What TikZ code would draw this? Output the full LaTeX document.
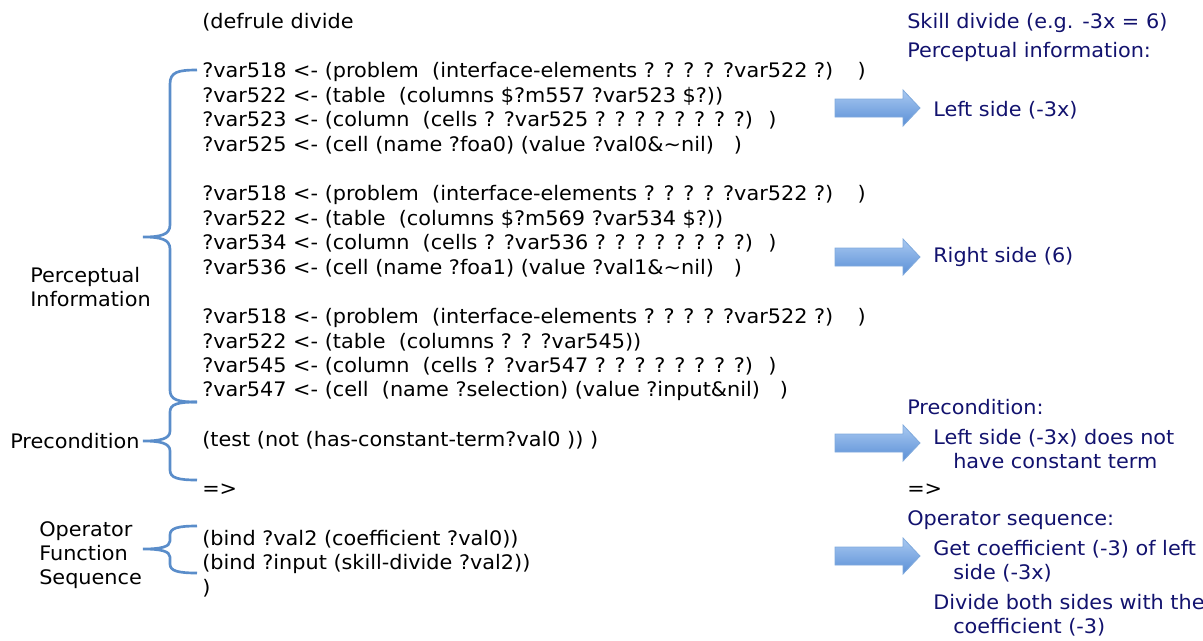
\documentclass[tikz,border=0pt]{standalone}
\usepackage{fontspec}
\setmainfont{DejaVu Sans}[FakeStretch=1.04]
\usepackage{xcolor}
\usepackage{tikz}

\definecolor{navytext}{HTML}{12126E}
\definecolor{braceblue}{HTML}{5A8DCA}
\definecolor{arrowtop}{HTML}{A9C9F1}
\definecolor{arrowbot}{HTML}{5A8FD6}
\definecolor{arrowedge}{HTML}{7FA9DC}

\tikzset{
    code/.style={anchor=west, inner sep=0pt, font=\fontsize{15}{18}\selectfont},
    sidelabel/.style={anchor=west, inner sep=0pt, align=left, font=\fontsize{15}{18}\selectfont},
    note/.style={anchor=west, inner sep=0pt, align=left, text=navytext, font=\fontsize{15}{18}\selectfont},
    braceline/.style={draw=braceblue, line width=2pt},
    blockarrow/.style={draw=arrowedge, line width=0.6pt, top color=arrowtop, bottom color=arrowbot}
}

\begin{document}
\begin{tikzpicture}[x=0.75pt, y=-0.75pt]
        \useasboundingbox (0, 0) rectangle (1203, 640);

        % rule text
        \node[code] (defrule) at (202, 22.3) {(defrule divide};

        \node[code] (lineA1) at (202, 71.5) {?var518 <- (problem~ (interface-elements ? ? ? ? ?var522 ?) ~ )};
        \node[code] (lineA2) at (202, 96.1) {?var522 <- (table~ (columns \$?m557 ?var523 \$?))};
        \node[code] (lineA3) at (202, 120.7) {?var523 <- (column~ (cells ? ?var525 ? ? ? ? ? ? ? ?)~ )};
        \node[code] (lineA4) at (202, 145.3) {?var525 <- (cell (name ?foa0) (value ?val0\&\textasciitilde nil) ~ )};

        \node[code] (lineB1) at (202, 194.5) {?var518 <- (problem~ (interface-elements ? ? ? ? ?var522 ?) ~ )};
        \node[code] (lineB2) at (202, 219.1) {?var522 <- (table~ (columns \$?m569 ?var534 \$?))};
        \node[code] (lineB3) at (202, 243.7) {?var534 <- (column~ (cells ? ?var536 ? ? ? ? ? ? ? ?)~ )};
        \node[code] (lineB4) at (202, 268.3) {?var536 <- (cell (name ?foa1) (value ?val1\&\textasciitilde nil) ~ )};

        \node[code] (lineC1) at (202, 317.5) {?var518 <- (problem~ (interface-elements ? ? ? ? ?var522 ?) ~ )};
        \node[code] (lineC2) at (202, 342.1) {?var522 <- (table~ (columns ? ? ?var545))};
        \node[code] (lineC3) at (202, 366.7) {?var545 <- (column~ (cells ? ?var547 ? ? ? ? ? ? ? ?)~ )};
        \node[code] (lineC4) at (202, 391.3) {?var547 <- (cell~ (name ?selection) (value ?input\&nil) ~ )};

        \node[code] (test) at (202, 440.5) {(test (not (has-constant-term?val0 )) )};
        \node[code] (then) at (202, 489.7) {=>};
        \node[code] (bindA) at (202, 538.9) {(bind ?val2 (coefficient ?val0))};
        \node[code] (bindB) at (202, 563.5) {(bind ?input (skill-divide ?val2))};
        \node[code] (close) at (202, 588.1) {)};

        % braces and their labels
        \draw[braceline] (197, 70) .. controls (178, 70) and (170, 72) .. (170, 84)
            -- (170, 225) .. controls (170, 235) and (160, 237) .. (143, 237)
            (143, 237) .. controls (160, 237) and (170, 239) .. (170, 249)
            -- (170, 390) .. controls (170, 400) and (178, 402) .. (197, 402);
        \node[sidelabel] (perclabel) at (30, 287) {Perceptual\\Information};

        \draw[braceline] (197, 402) .. controls (178, 402) and (170, 404) .. (170, 412)
            -- (170, 431) .. controls (170, 439) and (160, 441) .. (143, 441)
            (143, 441) .. controls (160, 441) and (170, 443) .. (170, 451)
            -- (170, 470) .. controls (170, 478) and (178, 480) .. (197, 480);
        \node[sidelabel] (prelabel) at (10, 441) {Precondition};

        \draw[braceline] (197, 526) .. controls (178, 526) and (170, 528) .. (170, 535)
            -- (170, 541) .. controls (170, 547) and (160, 549) .. (143, 549)
            (143, 549) .. controls (160, 549) and (170, 551) .. (170, 557)
            -- (170, 564) .. controls (170, 571) and (178, 573) .. (197, 573);
        \node[sidelabel] (oplabel) at (39, 555) {Operator\\Function\\Sequence};

        % block arrows
        \shadedraw[blockarrow] (835, 99) -- (903, 99) -- (903, 90) -- (920, 108)
            -- (903, 126) -- (903, 117) -- (835, 117) -- cycle;
        \shadedraw[blockarrow] (835, 248) -- (903, 248) -- (903, 239) -- (920, 257)
            -- (903, 275) -- (903, 266) -- (835, 266) -- cycle;
        \shadedraw[blockarrow] (835, 434) -- (903, 434) -- (903, 425) -- (920, 443)
            -- (903, 461) -- (903, 452) -- (835, 452) -- cycle;
        \shadedraw[blockarrow] (835, 547) -- (903, 547) -- (903, 538) -- (920, 556)
            -- (903, 574) -- (903, 565) -- (835, 565) -- cycle;

        % explanation on the right
        \node[note] (skill) at (907, 23) {Skill divide (e.g. -3x = 6)};
        \node[note] (perchead) at (907, 51.7) {Perceptual information:};
        \node[note] (leftside) at (933, 110) {Left side (-3x)};
        \node[note] (rightside) at (933, 257) {Right side (6)};
        \node[note] (prehead) at (907, 406.7) {Precondition:};
        \node[note] (noconst) at (933, 449) {Left side (-3x) does not\\\hspace*{15pt}have constant term};
        \node[code] (thenright) at (907, 490) {=>};
        \node[note] (ophead) at (907, 520) {Operator sequence:};
        \node[note] (getcoef) at (933, 561.7) {Get coefficient (-3) of left\\\hspace*{15pt}side (-3x)};
        \node[note] (divboth) at (933, 615) {Divide both sides with the\\\hspace*{15pt}coefficient (-3)};
\end{tikzpicture}
\end{document}
